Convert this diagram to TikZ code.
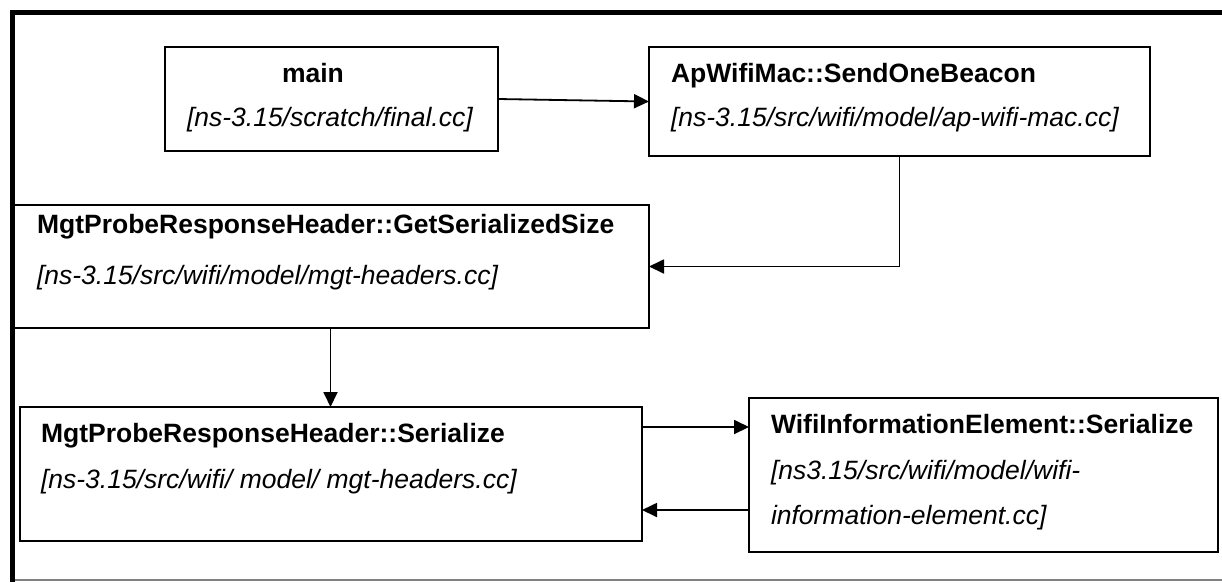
\documentclass[tikz,border=0pt]{standalone}
\usepackage{fontspec}
\setmainfont{Liberation Sans}
\usetikzlibrary{arrows.meta}
\tikzset{
  box/.style={draw=black, line width=1.8pt, rectangle, inner sep=0pt, outer sep=0pt, anchor=north west},
  lbl/.style={anchor=base west, inner sep=0pt, outer sep=0pt, font=\fontsize{26.5pt}{30pt}\selectfont},
  bold/.style={lbl, font=\fontsize{26.5pt}{30pt}\selectfont\bfseries},
  path/.style={lbl, font=\fontsize{26.5pt}{30pt}\selectfont\itshape},
  arr/.style={line width=1.8pt, -{Triangle[length=15pt,width=14pt]}},
  frame/.style={line width=5.5pt, black}
}
\begin{document}
\begin{tikzpicture}[x=1pt, y=-1pt]
\useasboundingbox (0,0) rectangle (1222,582);
\fill[white] (0,0) rectangle (1222,582);
% outer frame
\coordinate (fbl) at (12.5,582);
\coordinate (ftl) at (12.5,12.5);
\coordinate (ftr) at (1222,12.5);
\coordinate (gbl) at (12.5,580);
\coordinate (gbr) at (1222,580);
\draw[gray, line width=1.5pt] (gbl) -- (gbr);
\draw[frame] (fbl) -- (ftl) -- (ftr);
% boxes
\node[box, minimum width=333pt, minimum height=104pt] (main) at (165,47) {};
\node[box, minimum width=501pt, minimum height=109pt] (ap) at (649,47) {};
\node[box, minimum width=637pt, minimum height=123pt] (gss) at (12,205) {};
\node[box, minimum width=622pt, minimum height=134pt] (ser) at (20,407) {};
\node[box, minimum width=469pt, minimum height=154pt] (wie) at (749,398) {};
% texts
\node[bold] (mainA) at (282,82) {main};
\node[path] (mainB) at (187,126) {[ns-3.15/scratch/final.cc]};
\node[bold] (apA) at (671,82) {ApWifiMac::SendOneBeacon};
\node[path] (apB) at (671,126) {[ns-3.15/src/wifi/model/ap-wifi-mac.cc]};
\node[bold] (gssA) at (37,233) {MgtProbeResponseHeader::GetSerializedSize};
\node[path] (gssB) at (37,284) {[ns-3.15/src/wifi/model/mgt-headers.cc]};
\node[bold] (serA) at (41,442) {MgtProbeResponseHeader::Serialize};
\node[path] (serB) at (41,488) {[ns-3.15/src/wifi/ model/ mgt-headers.cc]};
\node[bold] (wieA) at (771,433) {WifiInformationElement::Serialize};
\node[path] (wieB) at (771,479) {[ns3.15/src/wifi/model/wifi-};
\node[path] (wieC) at (771,524) {information-element.cc]};
% connectors
\draw[arr] (main.east) -- (ap.west);
\draw[arr] (ap.south) |- (gss.east);
\draw[arr] (gss.south) -- (gss.south |- ser.north);
\coordinate (s1) at ([yshift=-20pt]ser.north east);
\coordinate (s2) at ([yshift=31pt]ser.south east);
\draw[arr] (s1) -- (s1 -| wie.west);
\draw[arr] (s2 -| wie.west) -- (s2);
\end{tikzpicture}
\end{document}
